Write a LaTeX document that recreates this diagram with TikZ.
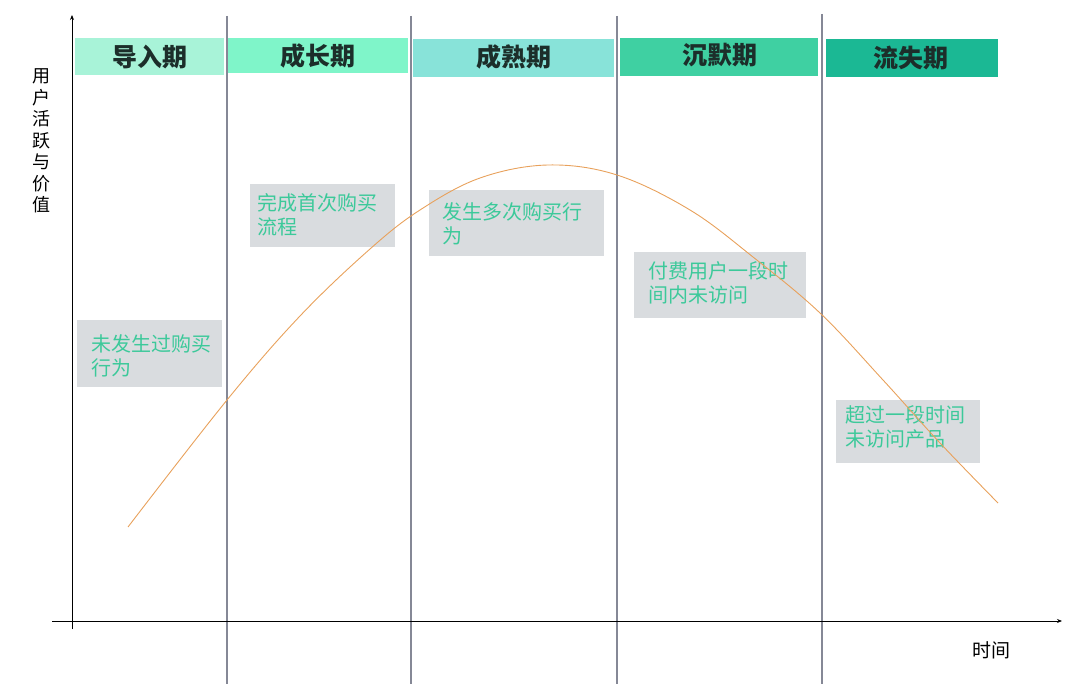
\documentclass[tikz,border=0pt]{standalone}
\usepackage{fontspec}
\setmainfont{Noto Sans CJK SC}
\usetikzlibrary{arrows.meta}
\definecolor{gline}{HTML}{858896}
\definecolor{boxgray}{HTML}{D9DCDF}
\definecolor{txtgreen}{HTML}{3CC99A}
\definecolor{hdA}{HTML}{A8F3D8}
\definecolor{hdB}{HTML}{7FF5C9}
\definecolor{hdC}{HTML}{88E3D9}
\definecolor{hdD}{HTML}{3FD0A2}
\definecolor{hdE}{HTML}{1BB894}
\definecolor{hdtext}{HTML}{1C2E2A}
\definecolor{curveor}{HTML}{E8A15C}
\tikzset{
  hdr/.style={inner sep=0pt, font=\fontsize{25}{27}\selectfont\bfseries, text=hdtext},
  note/.style={anchor=north west, align=left, text=txtgreen, font=\fontsize{20}{24.5}\selectfont, inner sep=0pt},
  vline/.style={draw=gline, line width=1.6pt},
}
\begin{document}
\begin{tikzpicture}[x=1pt,y=-1pt]
\useasboundingbox (0,0) rectangle (1080,684);
% header bands
\fill[hdA] (75,38) rectangle (224,75);
\fill[hdB] (228,38) rectangle (408,73);
\fill[hdC] (413,39) rectangle (614,77);
\fill[hdD] (620,38) rectangle (818,76);
\fill[hdE] (826,39) rectangle (998,77);
\node[hdr] (h1) at (150,57) {导入期};
\node[hdr] (h2) at (318,56) {成长期};
\node[hdr] (h3) at (514,57) {成熟期};
\node[hdr] (h4) at (720,55) {沉默期};
\node[hdr] (h5) at (911,58) {流失期};
% vertical separators
\draw[vline] (227,16) -- (227,684);
\draw[vline] (411,16) -- (411,684);
\draw[vline] (617,16) -- (617,684);
\draw[vline] (822,14) -- (822,684);
% gray boxes
\fill[boxgray] (77,320) rectangle (222,387);
\fill[boxgray] (250,184) rectangle (395,247);
\fill[boxgray] (429,190) rectangle (604,256);
\fill[boxgray] (634,252) rectangle (806,318);
\fill[boxgray] (836,400) rectangle (980,463);
\node[note] (n1) at (91,334) {未发生过购买\\行为};
\node[note] (n2) at (257,193) {完成首次购买\\流程};
\node[note] (n3) at (442,202) {发生多次购买行\\为};
\node[note] (n4) at (648,261) {付费用户一段时\\间内未访问};
\node[note] (n5) at (845,405) {超过一段时间\\未访问产品};
% curve
\draw[curveor, line width=0.9pt] plot[smooth, tension=0.6] coordinates {(128,527) (227,400) (300,316) (370,249) (420,210) (480,178) (548,165) (617,175) (690,210) (753,257) (820,313) (883,380) (940,443) (998,503)};
% axes
\coordinate (ytop) at (72,15);
\coordinate (xend) at (1062,621);
\coordinate (ybot) at (72,629);
\coordinate (xbeg) at (52,621);
\draw[black, line width=0.9pt, -{Stealth[length=5pt,width=4pt]}] (ybot) -- (ytop);
\draw[black, line width=0.9pt, -{Stealth[length=5pt,width=4pt]}] (xbeg) -- (xend);
% axis labels
\node[font=\fontsize{18}{21.5}\selectfont, align=center, inner sep=0pt, text=black] (ylab) at (41,141) {用\\户\\活\\跃\\与\\价\\值};
\node[font=\fontsize{19}{21}\selectfont, inner sep=0pt, text=black] (xlab) at (991,650) {时间};
\end{tikzpicture}
\end{document}
